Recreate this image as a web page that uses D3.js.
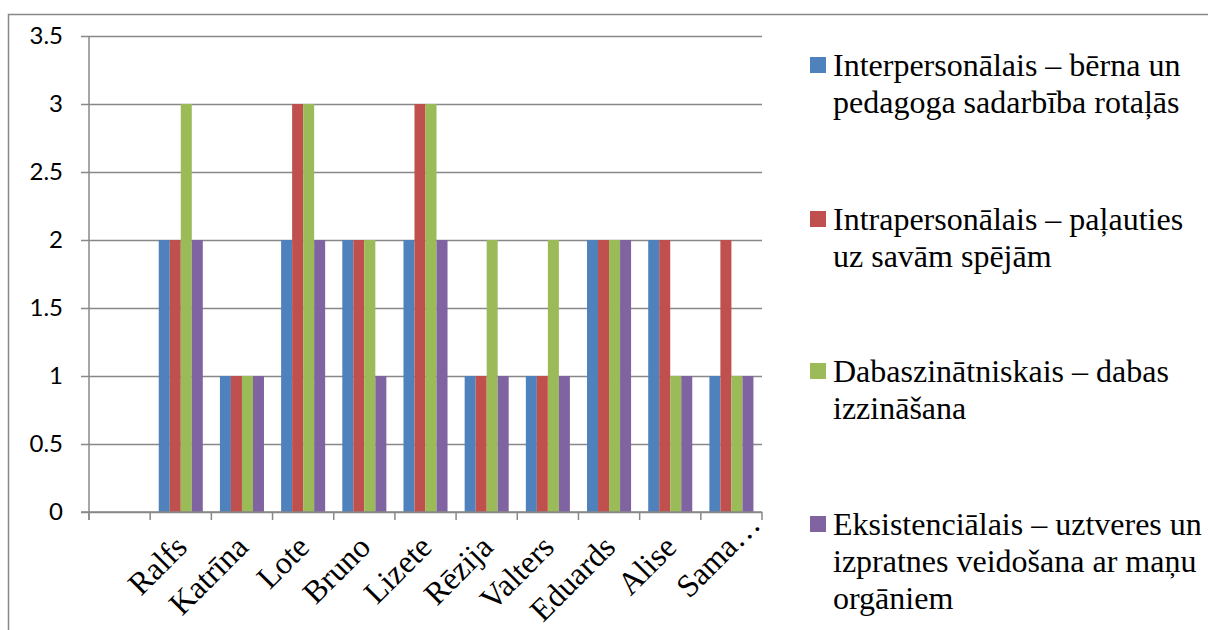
<!DOCTYPE html>
<html>
<head>
<meta charset="utf-8">
<script src="https://cdn.jsdelivr.net/npm/d3@7"></script>
<style>
  html, body { margin: 0; padding: 0; background: #fff; }
  svg { display: block; }
</style>
</head>
<body>
<svg id="chart" width="1208" height="630"></svg>
<script>
// ---- data ----
const categories = ["", "Ralfs", "Katrīna", "Lote", "Bruno", "Lizete", "Rēzija", "Valters", "Eduards", "Alise", "Sama…"];
const interpersonal = [null, 2, 1, 2, 2, 2, 1, 1, 2, 2, 1];
const intrapersonal = [null, 2, 1, 3, 2, 3, 1, 1, 2, 2, 2];
const naturalist    = [null, 3, 1, 3, 2, 3, 2, 2, 2, 1, 1];
const existential   = [null, 2, 1, 2, 1, 2, 1, 1, 2, 1, 1];
const seriesLabels = [
  ["Interpersonālais – bērna un", "pedagoga sadarbība rotaļās"],
  ["Intrapersonālais – paļauties", "uz savām spējām"],
  ["Dabaszinātniskais – dabas", "izzināšana"],
  ["Eksistenciālais – uztveres un", "izpratnes veidošana ar maņu", "orgāniem"]
];
const yTicks = [0, 0.5, 1, 1.5, 2, 2.5, 3, 3.5];
const colors = ["#4F81BD", "#C0504D", "#9BBB59", "#8064A2"];

const seriesValues = [interpersonal, intrapersonal, naturalist, existential];

const svg = d3.select("#chart");

// outer frame
svg.append("rect")
  .attr("x", 8.5).attr("y", 14.5)
  .attr("width", 1300).attr("height", 700)
  .attr("fill", "none").attr("stroke", "#888").attr("stroke-width", 1.5);

const plot = { left: 89, right: 762, top: 36, bottom: 512 };

const x0 = d3.scaleBand()
  .domain(categories.map((d, i) => i))
  .range([plot.left, plot.right])
  .paddingInner(0.28)
  .paddingOuter(0.14);

const x1 = d3.scaleBand()
  .domain(d3.range(seriesValues.length))
  .range([0, x0.bandwidth()]);

const y = d3.scaleLinear().domain([0, 3.5]).range([plot.bottom, plot.top]);

// gridlines + y axis
const yAxis = d3.axisLeft(y)
  .tickValues(yTicks)
  .tickSize(-(plot.right - plot.left))
  .tickSizeOuter(0)
  .tickPadding(26)
  .tickFormat(d => String(d));

const gy = svg.append("g")
  .attr("transform", `translate(${plot.left},0)`)
  .call(yAxis);
gy.select(".domain").remove();
gy.selectAll(".tick line")
  .attr("x1", -8)
  .attr("stroke", "#888").attr("stroke-width", 1.5);
gy.selectAll(".tick text")
  .attr("font-family", "Lato, 'Open Sans', sans-serif")
  .attr("font-size", 24)
  .attr("fill", "#000");

// y axis line
svg.append("line")
  .attr("x1", plot.left).attr("x2", plot.left)
  .attr("y1", plot.top).attr("y2", plot.bottom + 8)
  .attr("stroke", "#888").attr("stroke-width", 1.5);

// x tick marks at category boundaries
const step = x0.step();
const boundaries = d3.range(categories.length + 1).map(i => plot.left + i * step);
svg.append("g").selectAll("line")
  .data(boundaries)
  .join("line")
  .attr("x1", d => d).attr("x2", d => d)
  .attr("y1", plot.bottom).attr("y2", plot.bottom + 8)
  .attr("stroke", "#888").attr("stroke-width", 1.5);

// bars
const groups = svg.append("g").selectAll("g")
  .data(categories.map((c, i) => i))
  .join("g")
  .attr("transform", i => `translate(${x0(i)},0)`);

groups.selectAll("rect")
  .data(i => seriesValues.map((s, k) => ({ k, v: s[i] })).filter(d => d.v != null))
  .join("rect")
  .attr("x", d => x1(d.k))
  .attr("width", x1.bandwidth())
  .attr("y", d => y(d.v))
  .attr("height", d => y(0) - y(d.v))
  .attr("fill", d => colors[d.k]);

// x axis baseline over bars
svg.append("line")
  .attr("x1", plot.left - 8).attr("x2", plot.right)
  .attr("y1", plot.bottom).attr("y2", plot.bottom)
  .attr("stroke", "#888").attr("stroke-width", 1.5);

// x labels (truncated label: the ellipsis hangs past the anchor, as in the original)
const xl = svg.append("g").selectAll("text")
  .data(categories.map((c, i) => i))
  .join("text")
  .attr("transform", i => `translate(${x0(i) + x0.bandwidth() / 2 + 8},${plot.bottom + 37}) rotate(-45)`)
  .attr("text-anchor", "start")
  .attr("font-family", "'Liberation Serif', 'Times New Roman', serif")
  .attr("font-size", 32)
  .attr("fill", "#000")
  .text(i => categories[i]);
xl.each(function(i) {
  const label = categories[i];
  const core = label.replace(/…$/, "");
  const w = core.length ? this.getSubStringLength(0, core.length) : 0;
  d3.select(this).attr("x", -w);
});

// legend
const legend = svg.append("g");
const legendItemY = [76, 230, 382, 535];
seriesLabels.forEach((lines, k) => {
  const g = legend.append("g").attr("transform", `translate(810,${legendItemY[k]})`);
  g.append("rect")
    .attr("x", 0).attr("y", -19)
    .attr("width", 16).attr("height", 16)
    .attr("fill", colors[k]);
  const t = g.append("text")
    .attr("x", 23).attr("y", 0)
    .attr("font-family", "'Liberation Serif', 'Times New Roman', serif")
    .attr("font-size", 32)
    .attr("fill", "#000");
  lines.forEach((line, j) => {
    t.append("tspan").attr("x", 23).attr("y", j * 37).text(line);
  });
});
</script>
</body>
</html>
